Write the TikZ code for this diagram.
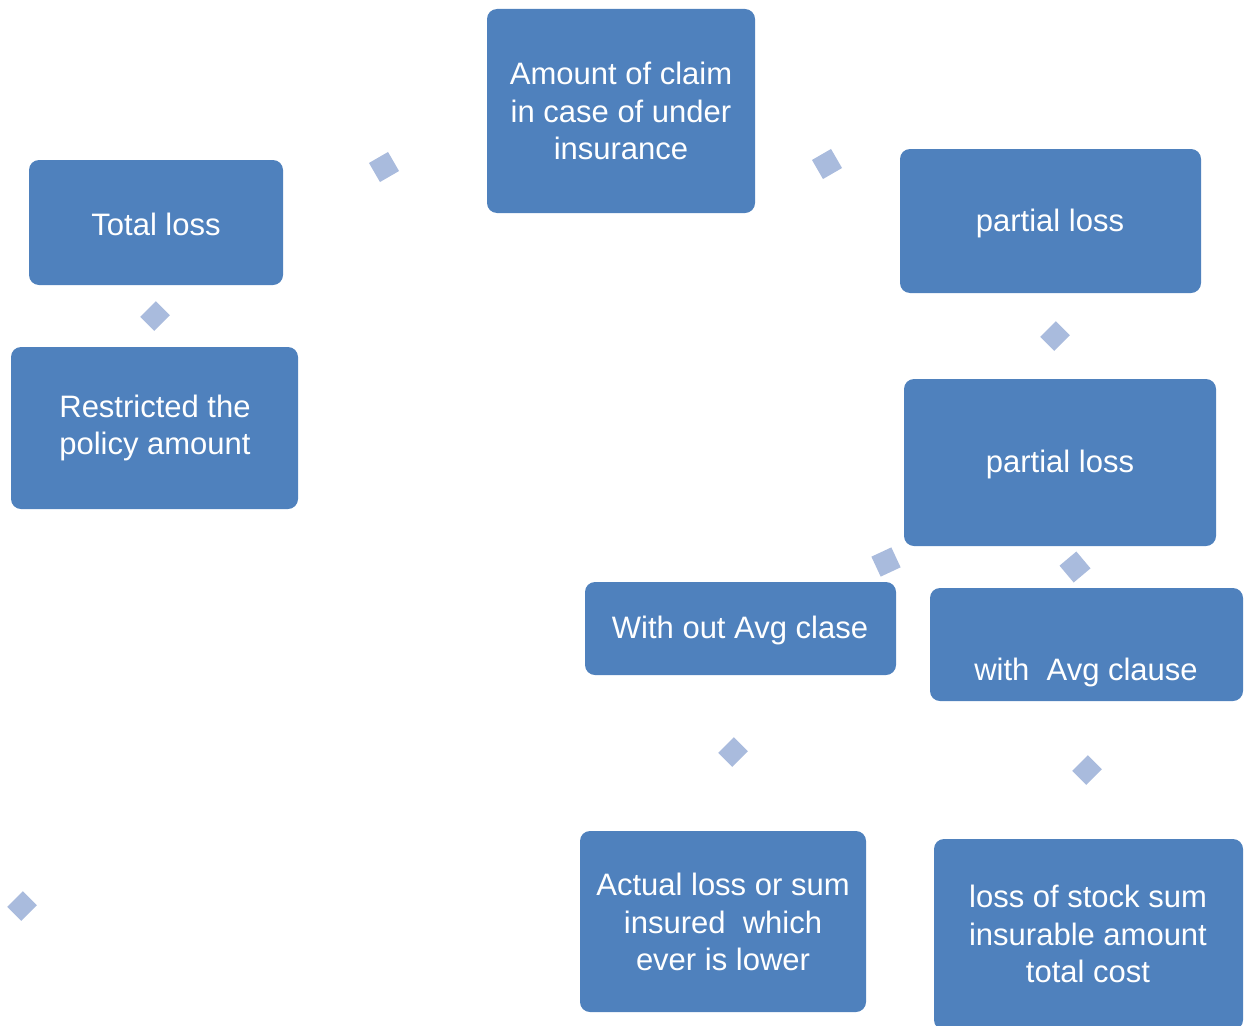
\documentclass[tikz,border=0pt]{standalone}
\usepackage{fontspec}
\setmainfont{Liberation Sans}
\definecolor{boxblue}{HTML}{4F81BD}
\definecolor{diamblue}{HTML}{A9BBDD}
\begin{document}
\begin{tikzpicture}[x=1pt,y=-1pt,
  boxbg/.style={fill=boxblue, rounded corners=10pt},
  label/.style={text=white, align=center, font=\fontsize{31}{37.5}\selectfont, inner sep=0pt},
  diam/.style={fill=diamblue, draw=none, minimum size=22pt, inner sep=0pt}]
\useasboundingbox (0,0) rectangle (1246,1025);
% boxes
\fill[boxbg] (29,160) rectangle (283,285);
\node[label] (total) at (156,224) {Total loss};
\fill[boxbg] (11,347) rectangle (298,509);
\node[label] (restr) at (155,428) {Restricted the\\policy amount};
\fill[boxbg] (487,9) rectangle (755,213);
\node[label] (claim) at (621,111) {Amount of claim\\in case of under\\insurance};
\fill[boxbg] (900,149) rectangle (1201,293);
\node[label] (pl1) at (1050,223) {partial loss};
\fill[boxbg] (904,379) rectangle (1216,546);
\node[label] (pl2) at (1060,464) {partial loss};
\fill[boxbg] (585,582) rectangle (896,675);
\node[label] (without) at (740,630) {With out Avg clase};
\fill[boxbg] (930,588) rectangle (1243,701);
\node[label] (with) at (1086,672) {with\ \ Avg clause};
\fill[boxbg] (580,831) rectangle (866,1012);
\node[label] (actual) at (723,922) {Actual loss or sum\\insured\ \ which\\ever is lower};
\fill[boxbg] (934,839) rectangle (1243,1030);
\node[label] (stock) at (1088,934) {loss of stock sum\\insurable amount\\total cost};
% diamonds
\node[diam, rotate=30] (d1) at (384,167) {};
\node[diam, rotate=30] (d2) at (827,164) {};
\node[diam, rotate=45, yscale=0.9] (d3) at (155,316) {};
\node[diam, rotate=45, yscale=0.9] (d4) at (1055,336) {};
\node[diam, rotate=25] (d5) at (886,562) {};
\node[diam, rotate=40] (d6) at (1075,567) {};
\node[diam, rotate=45, yscale=0.9] (d7) at (733,752) {};
\node[diam, rotate=45, yscale=0.9] (d8) at (1087,770) {};
\node[diam, rotate=45, yscale=0.9] (d9) at (22,906) {};
\end{tikzpicture}
\end{document}
